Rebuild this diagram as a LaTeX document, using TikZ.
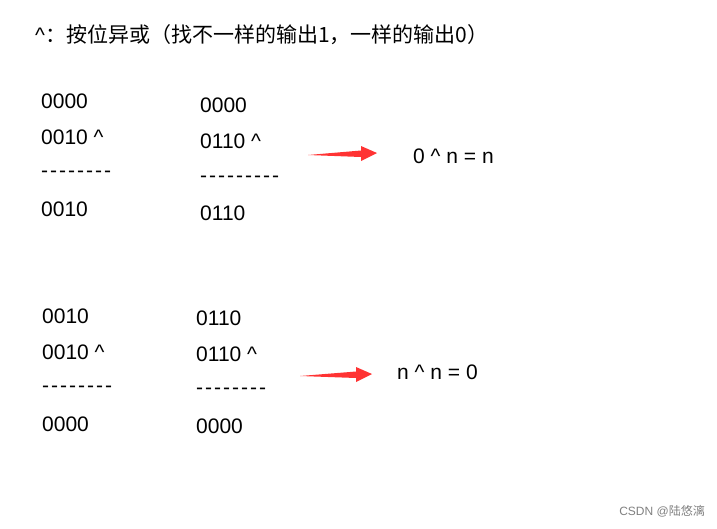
\documentclass[tikz,border=0pt]{standalone}
\usepackage{fontspec}
\setmainfont{Liberation Sans}
\newfontfamily\cjk{Noto Sans CJK SC}
\tikzset{
  bits/.style = {anchor=west, inner sep=0pt, font=\fontsize{21}{24}\selectfont},
  redarrow/.style = {fill=red!80!white, draw=none}
}
\newcommand{\dashline}[1]{\strut\foreach \i in {1,...,#1}{-\kern2pt}}
\begin{document}
\begin{tikzpicture}[x=1pt, y=-1pt]
  \useasboundingbox (0,0) rectangle (717,528);
  \node[bits] (title) at (35,35) {\^{}\cjk：按位异或（找不一样的输出1，一样的输出0）};
  % first example
  \node[bits] (a1) at (41,101) {0000};
  \node[bits] (a2) at (41,137) {0010 \^{}};
  \node[bits] (a3) at (41,173) {\dashline{8}};
  \node[bits] (a4) at (41,209) {0010};
  \node[bits] (b1) at (200,105) {0000};
  \node[bits] (b2) at (200,141) {0110 \^{}};
  \node[bits] (b3) at (200,178) {\dashline{9}};
  \node[bits] (b4) at (200,213) {0110};
  \coordinate (t1) at (308,155);
  \coordinate (h1) at (377,153);
  \fill[redarrow] (t1) -- (361,150.5) -- (361,146) -- (h1) -- (361,161) -- (361,157) -- cycle;
  \node[bits] (r1) at (413,156) {0 \^{} n = n};
  % second example
  \node[bits] (c1) at (42,316) {0010};
  \node[bits] (c2) at (42,352) {0010 \^{}};
  \node[bits] (c3) at (42,388) {\dashline{8}};
  \node[bits] (c4) at (42,424) {0000};
  \node[bits] (d1) at (196,318) {0110};
  \node[bits] (d2) at (196,354) {0110 \^{}};
  \node[bits] (d3) at (196,390) {\dashline{8}};
  \node[bits] (d4) at (196,426) {0000};
  \coordinate (t2) at (300,376);
  \coordinate (h2) at (372,374);
  \fill[redarrow] (t2) -- (356,371.5) -- (356,367) -- (h2) -- (356,382) -- (356,378) -- cycle;
  \node[bits] (r2) at (397,372) {n \^{} n = 0};
  \node[anchor=east, inner sep=0pt, text=gray, font=\fontsize{12}{14}\selectfont] (mark) at (705,511) {CSDN @\cjk 陆悠漓};
\end{tikzpicture}
\end{document}
